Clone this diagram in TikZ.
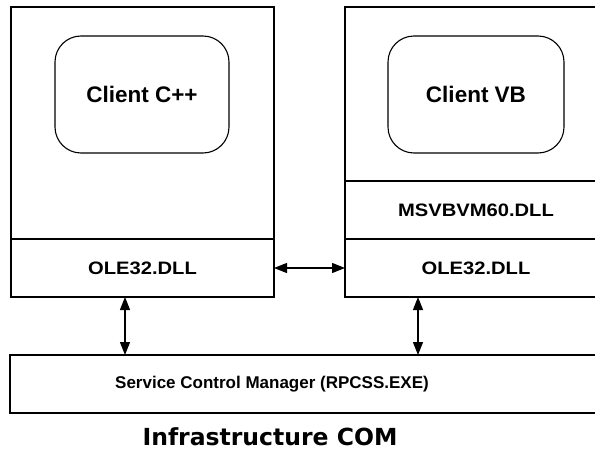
\documentclass[tikz,border=0pt]{standalone}
\usepackage{fontspec}
\usepackage{graphicx}
\setmainfont{Liberation Sans}
\newfontfamily\titlefont{DejaVu Sans}
\usetikzlibrary{arrows.meta}
\tikzset{
  panel/.style={draw, line width=1.1pt, rectangle, inner sep=0pt, outer sep=0pt, anchor=north west},
  client/.style={draw, line width=1.1pt, rectangle, rounded corners=26pt, inner sep=0pt, outer sep=0pt, anchor=north west},
  lbl/.style={font=\bfseries\fontsize{18}{20}\selectfont},
  arr/.style={line width=1.1pt, {Triangle[length=13pt,width=10pt]}-{Triangle[length=13pt,width=10pt]}}
}
\begin{document}
\begin{tikzpicture}[x=1pt,y=-1pt]
  \useasboundingbox (0,0) rectangle (595,463);
  \clip (0,0) rectangle (595,463);
  % left process: C++ client over OLE32
  \node[panel, minimum width=263pt, minimum height=290pt] (lbox) at (11,7) {};
  \node[panel, minimum width=263pt, minimum height=58pt, lbl] (lole) at (11,239) {\scalebox{1.12}[1]{OLE32.DLL}};
  \node[client, minimum width=174pt, minimum height=117pt, font=\bfseries\fontsize{22.5}{25}\selectfont] (ccpp) at (55,36) {Client C++};
  % right process: VB client over runtime and OLE32 (runs past the right edge)
  \node[panel, minimum width=262pt, minimum height=290pt] (rbox) at (345,7) {};
  \node[panel, minimum width=262pt, minimum height=58pt, lbl] (rmsvb) at (345,181) {\scalebox{1.12}[1]{MSVBVM60.DLL}};
  \node[panel, minimum width=262pt, minimum height=58pt, lbl] (role) at (345,239) {\scalebox{1.12}[1]{OLE32.DLL}};
  \node[client, minimum width=176pt, minimum height=117pt, font=\bfseries\fontsize{22.5}{25}\selectfont] (cvb) at (388,36) {Client VB};
  % service control manager (runs past the right edge)
  \node[panel, minimum width=600pt, minimum height=58pt, font=\bfseries\fontsize{17}{19}\selectfont] (scm) at (10,355) {\hspace*{-76pt}Service Control Manager (RPCSS.EXE)};
  % caption
  \node[font=\titlefont\bfseries\fontsize{23.5}{27}\selectfont] (title) at (270,437) {Infrastructure COM};
  % connectors
  \coordinate (la) at (125,0);
  \coordinate (ra) at (418,0);
  \draw[arr] (lole.east) -- (role.west);
  \draw[arr] (lole.south -| la) -- (scm.north -| la);
  \draw[arr] (role.south -| ra) -- (scm.north -| ra);
\end{tikzpicture}
\end{document}
